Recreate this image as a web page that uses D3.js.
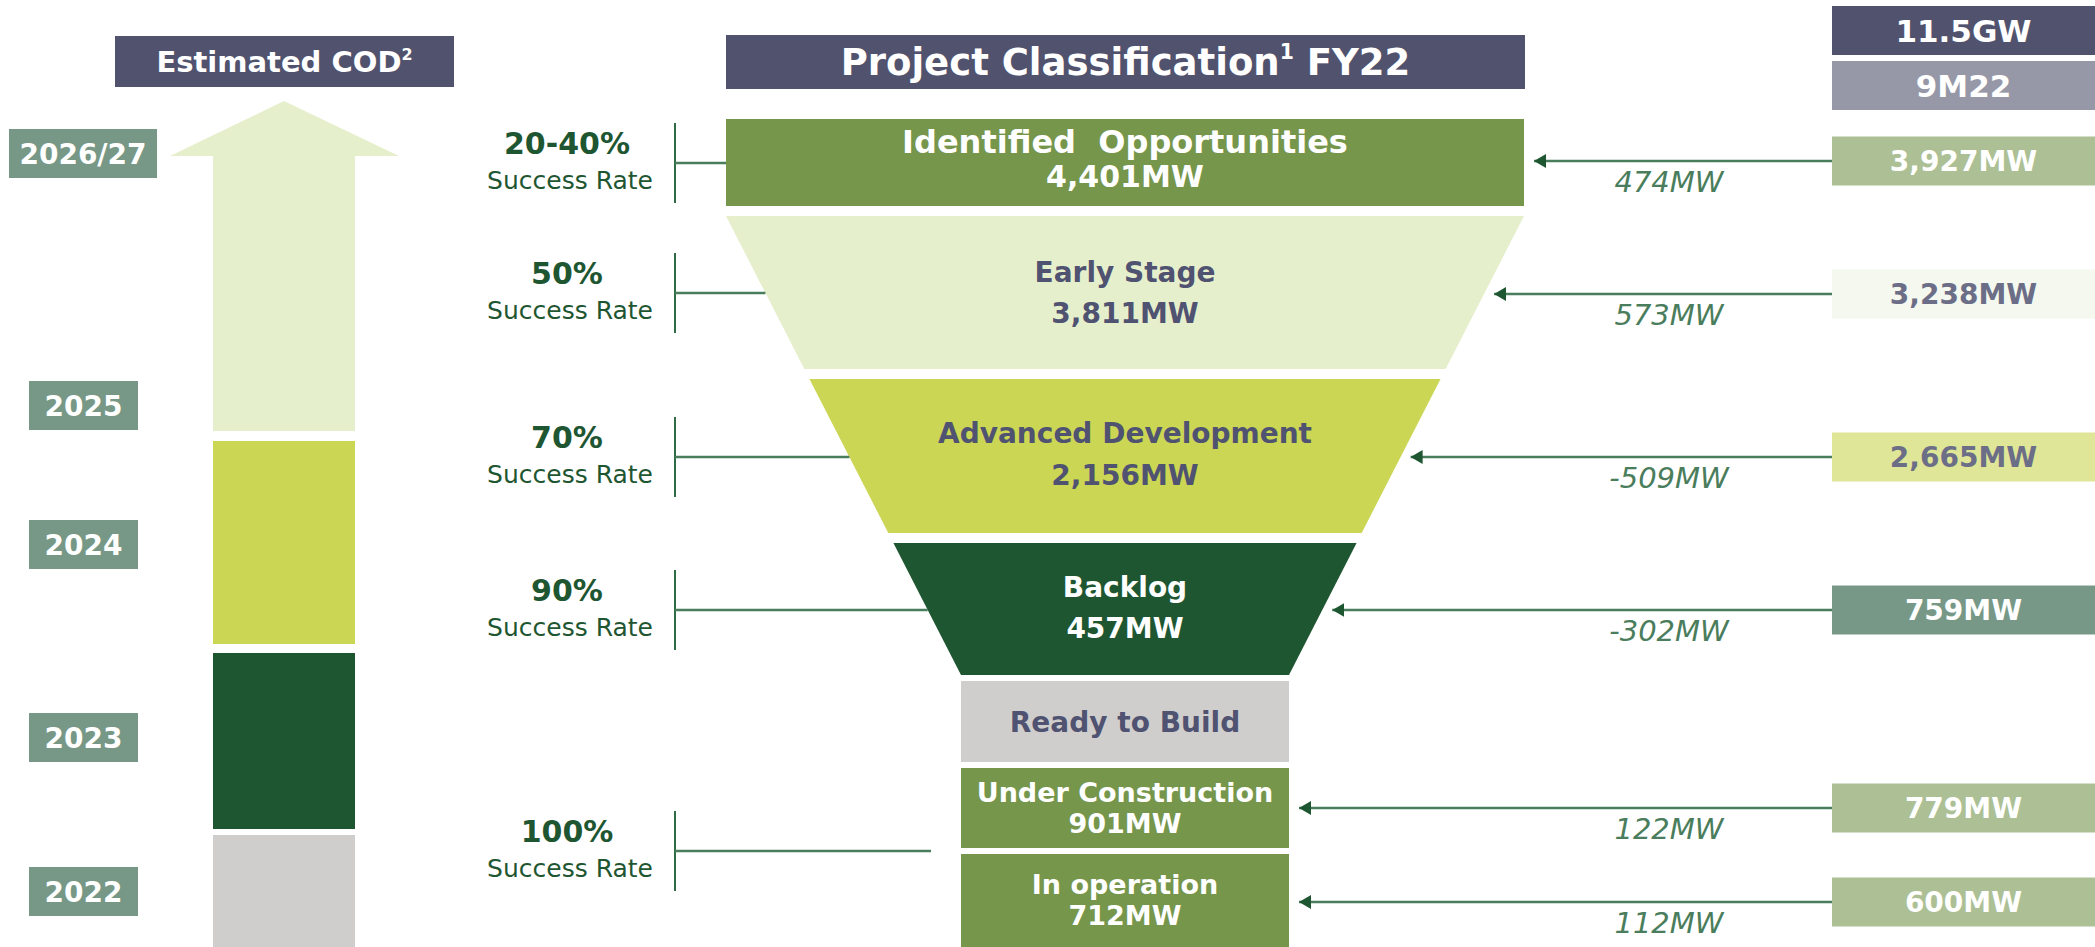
<!DOCTYPE html>
<html>
<head>
<meta charset="utf-8">
<script src="https://cdn.jsdelivr.net/npm/d3@7"></script>
<style>
  body { margin: 0; background: #fff; }
  svg { display: block; font-family: "DejaVu Sans", "Open Sans", sans-serif; }
</style>
</head>
<body>
<script>
////////////////////////////////////////////////////////////////////////////////
// DATA
////////////////////////////////////////////////////////////////////////////////
const stages = ['Identified  Opportunities', 'Early Stage', 'Advanced Development', 'Backlog', 'Ready to Build', 'Under Construction', 'In operation'];
const stageMW = [4401, 3811, 2156, 457, null, 901, 712];      // FY22
const prevMW = [3927, 3238, 2665, 759, null, 779, 600];       // 9M22
const changeMW = [474, 573, -509, -302, null, 122, 112];
const successRates = ['20-40%', '50%', '70%', '90%', '100%'];
const codYears = ['2026/27', '2025', '2024', '2023', '2022'];

////////////////////////////////////////////////////////////////////////////////
// LAYOUT
////////////////////////////////////////////////////////////////////////////////
const width = 2095, height = 947;
const navy = '#51536e', darkGreen = '#1f5632', lineGreen = '#4a7d5c', greyText = '#4f5270';

// vertical extent of each funnel row
const rowTop =    [119, 216, 379, 543, 681, 768, 854];
const rowBottom = [206, 369, 533, 675, 762, 848, 947];
const fills = ['#76964c', '#e6efcc', '#cbd654', '#1f5632', '#cfcecc', '#76964c', '#76964c'];
const textFill = ['#fff', greyText, greyText, '#fff', greyText, '#fff', '#fff'];
const prevFill = ['#adc095', '#f4f8ee', '#e0e697', '#779886', null, '#adc095', '#adc095'];
const prevText = ['#fff', '#6b6e86', '#6b6e86', '#fff', null, '#fff', '#fff'];

const cx = 1125;
const fmt = d3.format(',');

const svg = d3.select('body').append('svg')
  .attr('width', width)
  .attr('height', height);

// funnel half width follows the taper between the top of Early Stage and bottom of Backlog
const halfW = d3.scaleLinear().domain([216, 675]).range([399, 164]);
const leftEdge = y => cx - halfW(y);
const rightEdge = y => cx + halfW(y);

function rowShape(i) {
  const t = rowTop[i], b = rowBottom[i];
  if (i === 0) return [[cx - 399, t], [cx + 399, t], [cx + 399, b], [cx - 399, b]];
  if (i >= 4) return [[cx - 164, t], [cx + 164, t], [cx + 164, b], [cx - 164, b]];
  return [[leftEdge(t), t], [rightEdge(t), t], [rightEdge(b), b], [leftEdge(b), b]];
}
const rowLeftAt = (i, y) => i === 0 ? cx - 399 : (i >= 4 ? cx - 164 : leftEdge(y));
const rowRightAt = (i, y) => i === 0 ? cx + 399 : (i >= 4 ? cx + 164 : rightEdge(y));

////////////////////////////////////////////////////////////////////////////////
// HEADERS
////////////////////////////////////////////////////////////////////////////////
function header(x, y, w, h, fill, txt, sup, size, base) {
  svg.append('rect').attr('x', x).attr('y', y).attr('width', w).attr('height', h).attr('fill', fill);
  const t = svg.append('text')
    .attr('x', x + w / 2).attr('y', base)
    .attr('text-anchor', 'middle')
    .attr('fill', '#fff').attr('font-weight', 700).attr('font-size', size);
  t.append('tspan').text(txt[0]);
  if (sup) t.append('tspan').attr('font-size', size * 0.55).attr('dy', -size * 0.42).text(sup);
  if (txt[1]) t.append('tspan').attr('dy', sup ? size * 0.42 : 0).text(txt[1]);
}
header(115, 36, 339, 51, navy, ['Estimated COD'], '2', 29, 72);
header(726, 35, 799, 54, navy, ['Project Classification', ' FY22'], '1', 37, 75);
header(1832, 6, 263, 49, navy, ['11.5GW'], null, 31, 42);
header(1832, 61, 263, 49, '#9698a8', ['9M22'], null, 31, 97);

////////////////////////////////////////////////////////////////////////////////
// FUNNEL
////////////////////////////////////////////////////////////////////////////////
const line = d3.line();
const rows = svg.append('g').selectAll('g').data(stages).join('g');

rows.append('path')
  .attr('d', (d, i) => line(rowShape(i)) + 'Z')
  .attr('fill', (d, i) => fills[i]);

// text baselines relative to row centre
const nameOff = [-10, -11, -13, -12, 10, -6, -7];
const valOff = [24, 30, 29, 29, 0, 25, 24];
const nameSize = [32, 28, 28, 28, 28, 27, 27];
const valSize = [30, 28, 28, 28, 28, 27, 27];

rows.append('text')
  .attr('x', cx)
  .attr('y', (d, i) => (rowTop[i] + rowBottom[i]) / 2 + nameOff[i])
  .attr('text-anchor', 'middle')
  .attr('font-weight', 700)
  .attr('font-size', (d, i) => nameSize[i])
  .attr('fill', (d, i) => textFill[i])
  .style('white-space', 'pre')
  .text(d => d);

rows.filter((d, i) => stageMW[i] != null).append('text')
  .attr('x', cx)
  .attr('y', d => {
    const k = stages.indexOf(d);
    return (rowTop[k] + rowBottom[k]) / 2 + valOff[k];
  })
  .attr('text-anchor', 'middle')
  .attr('font-weight', 700)
  .attr('font-size', d => valSize[stages.indexOf(d)])
  .attr('fill', d => textFill[stages.indexOf(d)])
  .text(d => fmt(stageMW[stages.indexOf(d)]) + 'MW');

////////////////////////////////////////////////////////////////////////////////
// RIGHT: 9M22 VALUES AND CHANGE ARROWS
////////////////////////////////////////////////////////////////////////////////
svg.append('defs').append('marker')
  .attr('id', 'head')
  .attr('viewBox', '0 0 12 14')
  .attr('refX', 12).attr('refY', 7)
  .attr('markerWidth', 12).attr('markerHeight', 14)
  .attr('markerUnits', 'userSpaceOnUse')
  .attr('orient', 'auto')
  .append('path').attr('d', 'M0,0L12,7L0,14Z').attr('fill', darkGreen);

// arrow y positions (same as 9M22 box centres)
const arrowY = [161, 294, 457, 610, null, 808, 902];
const prevIdx = d3.range(stages.length).filter(i => prevMW[i] != null);

const right = svg.append('g').selectAll('g').data(prevIdx).join('g');

right.append('rect')
  .attr('x', 1832).attr('width', 263)
  .attr('y', i => arrowY[i] - 24.5).attr('height', 49)
  .attr('fill', i => prevFill[i]);

right.append('text')
  .attr('x', 1963.5).attr('y', i => arrowY[i] + 10)
  .attr('text-anchor', 'middle')
  .attr('font-weight', 700).attr('font-size', 28)
  .attr('fill', i => prevText[i])
  .text(i => fmt(prevMW[i]) + 'MW');

right.append('line')
  .attr('x1', 1832).attr('y1', i => arrowY[i])
  .attr('x2', i => rowRightAt(i, arrowY[i]) + 10).attr('y2', i => arrowY[i])
  .attr('stroke', lineGreen).attr('stroke-width', 2.5)
  .attr('marker-end', 'url(#head)');

right.append('text')
  .attr('x', 1669).attr('y', i => arrowY[i] + 31)
  .attr('text-anchor', 'middle')
  .attr('font-style', 'italic').attr('font-size', 29)
  .attr('fill', lineGreen)
  .text(i => d3.format(',')(changeMW[i]).replace('−', '-') + 'MW');

////////////////////////////////////////////////////////////////////////////////
// LEFT: SUCCESS RATES
////////////////////////////////////////////////////////////////////////////////
const rateY = [163, 293, 457, 610, 851];
const rateEnd = [null, null, null, null, 931];
const rateRow = [0, 1, 2, 3, 5];

const rates = svg.append('g').selectAll('g').data(successRates).join('g');

rates.append('line')
  .attr('x1', 675).attr('x2', 675)
  .attr('y1', (d, i) => rateY[i] - 40).attr('y2', (d, i) => rateY[i] + 40)
  .attr('stroke', '#2f6b45').attr('stroke-width', 2);

rates.append('line')
  .attr('x1', 675)
  .attr('x2', (d, i) => rateEnd[i] || rowLeftAt(rateRow[i], rateY[i]))
  .attr('y1', (d, i) => rateY[i]).attr('y2', (d, i) => rateY[i])
  .attr('stroke', lineGreen).attr('stroke-width', 2.5);

rates.append('text')
  .attr('x', 567).attr('y', (d, i) => rateY[i] - 9)
  .attr('text-anchor', 'middle')
  .attr('font-weight', 700).attr('font-size', 30)
  .attr('fill', darkGreen)
  .text(d => d);

rates.append('text')
  .attr('x', 570).attr('y', (d, i) => rateY[i] + 26)
  .attr('text-anchor', 'middle')
  .attr('font-size', 25)
  .attr('fill', darkGreen)
  .text('Success Rate');

////////////////////////////////////////////////////////////////////////////////
// LEFT: ESTIMATED COD TIMELINE
////////////////////////////////////////////////////////////////////////////////
const codFill = ['#e6efcc', '#cbd654', '#1f5632', '#cfcecc'];
const segTop = [441, 653, 835];
const segBottom = [644, 829, 947];

// arrow for 2025 onwards
svg.append('path')
  .attr('d', line([[213, 431], [213, 156], [170, 156], [284, 101], [399, 156], [355, 156], [355, 431]]) + 'Z')
  .attr('fill', codFill[0]);

svg.append('g').selectAll('rect').data(segTop).join('rect')
  .attr('x', 213).attr('width', 142)
  .attr('y', d => d)
  .attr('height', (d, i) => segBottom[i] - d)
  .attr('fill', (d, i) => codFill[i + 1]);

const yearY = d3.scaleOrdinal().domain(codYears).range([153.5, 405.5, 544.5, 737.5, 891.5]);

const years = svg.append('g').selectAll('g').data(codYears).join('g');
years.append('rect')
  .attr('x', (d, i) => i === 0 ? 9 : 29)
  .attr('width', (d, i) => i === 0 ? 148 : 109)
  .attr('y', d => yearY(d) - 24.5).attr('height', 49)
  .attr('fill', '#779886');
years.append('text')
  .attr('x', (d, i) => i === 0 ? 83 : 83.5)
  .attr('y', d => yearY(d) + 10.5)
  .attr('text-anchor', 'middle')
  .attr('font-weight', 700).attr('font-size', 28)
  .attr('fill', '#fff')
  .text(d => d);
</script>
</body>
</html>
